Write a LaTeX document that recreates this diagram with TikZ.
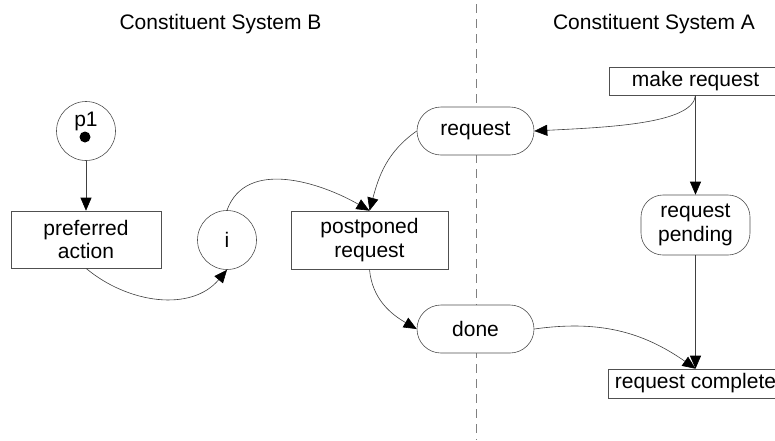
\documentclass[tikz,border=0pt]{standalone}
\usepackage{fontspec}
\setmainfont{Liberation Sans}
\usetikzlibrary{arrows.meta}
\definecolor{edgegray}{HTML}{404040}
\definecolor{boxgray}{HTML}{505050}
\tikzset{
  base/.style={draw=boxgray, line width=0.6pt, fill=white, inner sep=0pt, align=center, font=\fontsize{21}{23.5}\selectfont},
  place/.style={base, circle, minimum size=59pt},
  trans/.style={base, rectangle},
  msg/.style={base, rectangle, rounded corners=24pt},
  conn/.style={draw=edgegray, line width=0.6pt, -{Triangle[length=13pt,width=11pt,color=black,fill=black]}},
  divider/.style={draw=gray, line width=0.8pt, dash pattern=on 9pt off 6pt},
  title/.style={anchor=base, inner sep=0pt, font=\fontsize{21}{23.5}\selectfont},
  token/.style={circle, fill=black, inner sep=0pt, minimum size=11pt}
}
\begin{document}
\begin{tikzpicture}[x=1pt,y=1pt]
\useasboundingbox (0,0) rectangle (775,-440);
\clip (0,0) rectangle (775,-440);
\fill[white] (0,0) rectangle (775,-440);

% divider
\coordinate (dtop) at (476,-4);
\coordinate (dbot) at (476,-440);
\draw[divider] (dtop) -- (dbot);

% titles
\node[title] (tB) at (220.5,-29) {Constituent System B};
\node[title] (tA) at (654,-29) {Constituent System A};

% nodes
\node[place] (p1) at (86,-131) {};
\node[title] (p1lbl) at (86,-126.5) {p1};
\node[token] (tok) at (85,-137) {};
\node[trans, minimum width=150pt, minimum height=57pt] (pa) at (86,-239.5) {preferred\\action};
\node[place] (i) at (227,-240) {i};
\node[trans, minimum width=157pt, minimum height=58pt] (pr) at (369.5,-240) {postponed\\request};
\node[msg, minimum width=117pt, minimum height=48pt] (req) at (475.5,-131) {request};
\node[msg, minimum width=117pt, minimum height=48pt] (done) at (475.5,-329) {done};
\node[trans, minimum width=173pt, minimum height=28pt] (mk) at (695.5,-81) {make request};
\node[msg, rounded corners=22pt, minimum width=109pt, minimum height=60pt] (rp) at (695.5,-225) {request\\pending};
\node[trans, minimum width=174pt, minimum height=29pt] (rc) at (695.5,-383.5) {request complete};

% connectors
\draw[conn] (p1) -- (pa);
\draw[conn] (mk.south) -- (rp.north);
\draw[conn] (rp.south) -- (rc.north);
\draw[conn] (mk.south) to[out=-95, in=3, out looseness=0.45, in looseness=1.1] (req.east);
\draw[conn] (req.west) to[out=215, in=75] (pr.north);
\draw[conn] (i.north) to[out=70, in=150] (pr.north);
\draw[conn] (pa.south) to[out=-40, in=-130] (i.south);
\draw[conn] (pr.south) to[out=-85, in=150] (done.west);
\draw[conn] (done.east) to[out=8, in=145] (rc.north);
\end{tikzpicture}
\end{document}
